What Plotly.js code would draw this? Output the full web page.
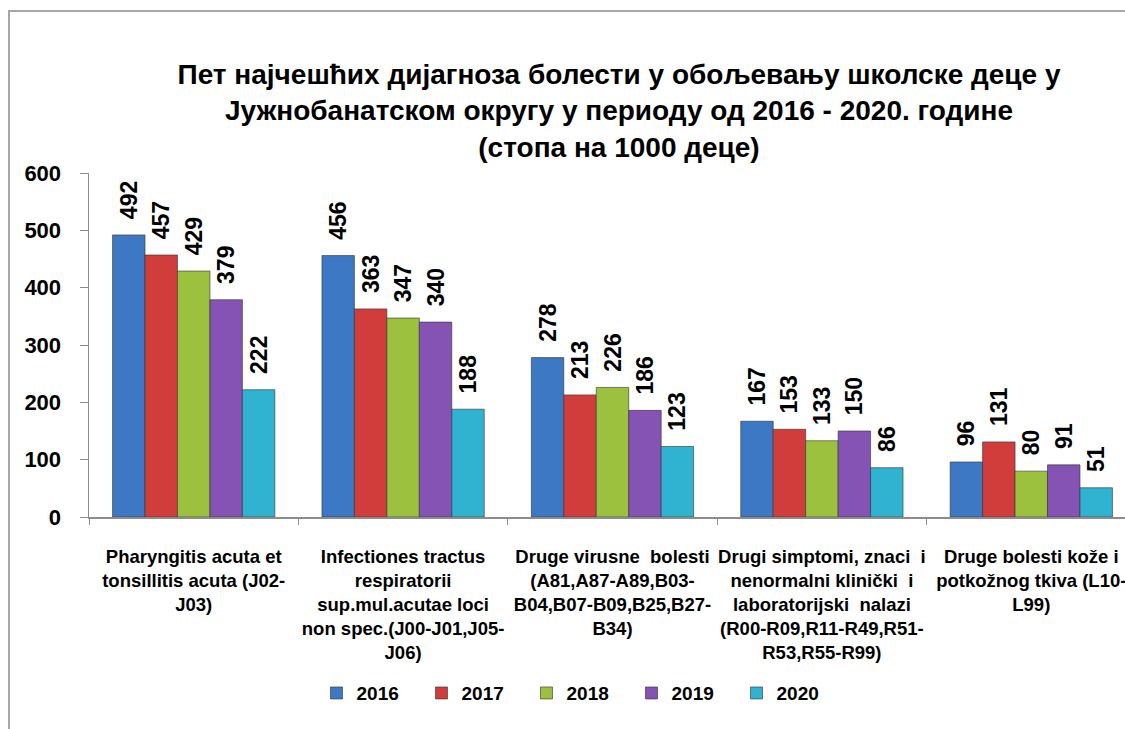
<!DOCTYPE html>
<html>
<head>
<meta charset="utf-8">
<script src="https://cdn.plot.ly/plotly-3.0.1.min.js"></script>
<style>
  html, body { margin: 0; padding: 0; overflow: hidden; background: #fff; }
  #wrap { position: relative; width: 1125px; height: 729px; overflow: hidden; }
  #chart { position: absolute; left: 0; top: 0; width: 1180px; height: 729px; }
  #frame { position: absolute; left: 8px; top: 10px; width: 1200px; height: 800px;
           border-top: 2px solid #a6a6a6; border-left: 2px solid #a6a6a6; pointer-events: none; }
</style>
</head>
<body>
<div id="wrap">
  <div id="chart"></div>
  <div id="frame"></div>
</div>
<script>
const categories = [
  "Pharyngitis acuta et<br>tonsillitis acuta (J02-<br>J03)",
  "Infectiones tractus<br>respiratorii<br>sup.mul.acutae loci<br>non spec.(J00-J01,J05-<br>J06)",
  "Druge virusne  bolesti<br>(A81,A87-A89,B03-<br>B04,B07-B09,B25,B27-<br>B34)",
  "Drugi simptomi, znaci  i<br>nenormalni klinički  i<br>laboratorijski  nalazi<br>(R00-R09,R11-R49,R51-<br>R53,R55-R99)",
  "Druge bolesti kože i<br>potkožnog tkiva (L10-<br>L99)"
];
const years = ["2016", "2017", "2018", "2019", "2020"];
const values2016 = [492, 456, 278, 167, 96];
const values2017 = [457, 363, 213, 153, 131];
const values2018 = [429, 347, 226, 133, 80];
const values2019 = [379, 340, 186, 150, 91];
const values2020 = [222, 188, 123, 86, 51];
const yTicks = [0, 100, 200, 300, 400, 500, 600];
const titleText = "Пет најчешћих дијагноза болести у обољевању школске деце у<br>Јужнобанатском округу у периоду од 2016 - 2020. године<br>(стопа на 1000 деце)";

const seriesValues = [values2016, values2017, values2018, values2019, values2020];
const colors = ["#3D78C4", "#D03D3B", "#9CC13F", "#8553B4", "#30B3D1"];
const FONT = "'Liberation Sans', Arial, sans-serif";

const traces = years.map((yr, i) => ({
  type: "bar",
  name: yr,
  x: categories,
  y: seriesValues[i],
  text: seriesValues[i].map(v => "\u00a0\u00a0" + v),
  textposition: "outside",
  textangle: -90,
  constraintext: "none",
  cliponaxis: false,
  textfont: { family: FONT, size: 23, color: "#000", weight: "bold" },
  marker: { color: colors[i], line: { color: "rgba(50,50,50,0.6)", width: 1 } },
  hoverinfo: "skip"
}));

const layout = {
  width: 1180,
  height: 729,
  paper_bgcolor: "#fff",
  plot_bgcolor: "#fff",
  margin: { l: 89, r: 44, t: 173, b: 212 },
  font: { family: FONT, color: "#000" },
  title: {
    text: titleText,
    font: { family: FONT, size: 28, weight: "bold", color: "#000" },
    xref: "container", x: 619 / 1180, xanchor: "center",
    yref: "container", y: 1 - 84 / 729, yanchor: "top"
  },
  barmode: "group",
  bargap: 0.225,
  bargroupgap: 0,
  showlegend: true,
  legend: {
    orientation: "h",
    x: 0.468, xanchor: "center",
    y: -0.512, yanchor: "middle",
    font: { family: FONT, size: 19, weight: "bold", color: "#000" },
    entrywidth: 60,
    traceorder: "normal"
  },
  xaxis: {
    type: "category",
    showline: true, linecolor: "#8c8c8c", linewidth: 1.5,
    ticks: "outside", tickson: "boundaries", ticklen: 6, tickcolor: "#8c8c8c",
    tickfont: { family: FONT, size: 18.5, weight: "bold", color: "#000" },
    ticklabelstandoff: 22,
    tickangle: 0,
    showgrid: false, zeroline: false
  },
  yaxis: {
    range: [0, 600],
    tickvals: yTicks,
    showline: true, linecolor: "#8c8c8c", linewidth: 1.5,
    ticks: "outside", ticklen: 8, tickcolor: "#8c8c8c",
    tickfont: { family: FONT, size: 22, weight: "bold", color: "#000" },
    ticklabelstandoff: 14,
    showgrid: false, zeroline: false
  }
};

Plotly.newPlot("chart", traces, layout, { displayModeBar: false, staticPlot: true });
</script>
</body>
</html>
